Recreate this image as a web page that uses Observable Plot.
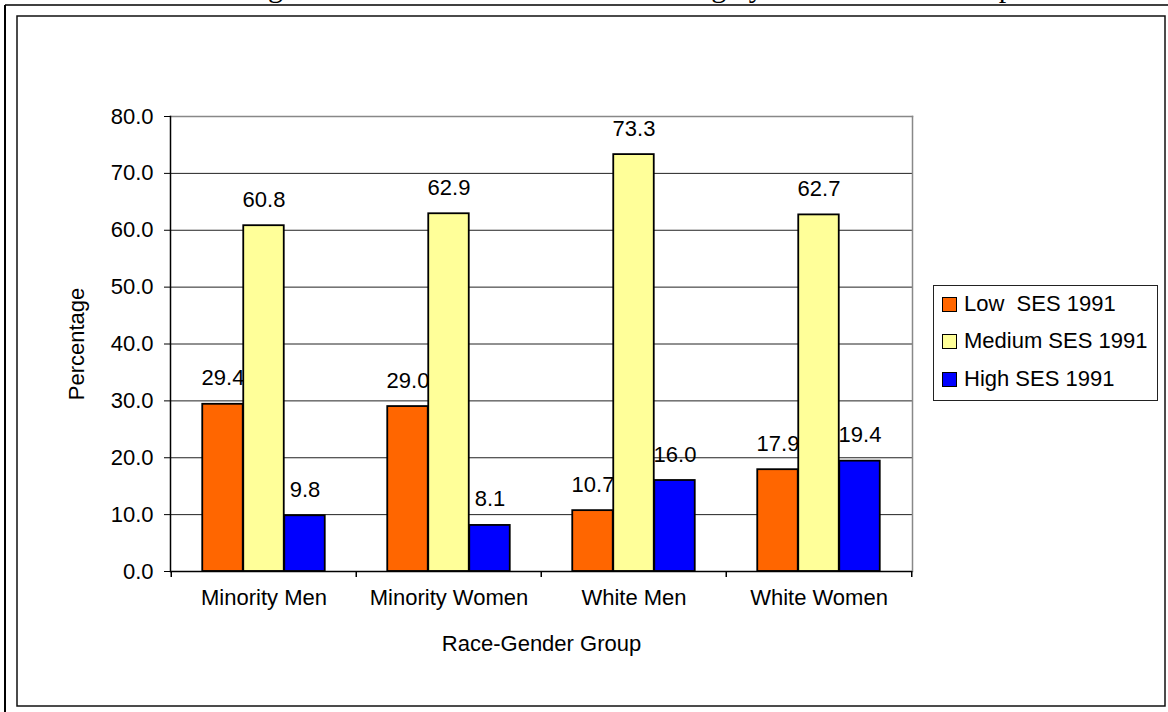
<!DOCTYPE html>
<html>
<head>
<meta charset="utf-8">
<script src="https://cdn.jsdelivr.net/npm/d3@7"></script>
<script src="https://cdn.jsdelivr.net/npm/@observablehq/plot@0.6"></script>
<style>
  html, body { margin: 0; padding: 0; background: #fff; }
  #page { position: relative; width: 1168px; height: 712px; overflow: hidden; font-family: "Liberation Sans", Arial, sans-serif; }
  #deco, #chart, #legend { position: absolute; }
  #deco { left: 0; top: 0; }
  #chart { left: 0; top: 0; }
  #legend { left: 933px; top: 285px; width: 223px; height: 114px; border: 1px solid #222; background: #fff; }
  .row { position: absolute; left: 8px; height: 24px; display: flex; align-items: center; font-size: 22px; color: #000; white-space: pre; }
  .sw { width: 13px; height: 13px; border: 1.5px solid #000; margin-right: 7px; }
</style>
</head>
<body>
<div id="page">
  <svg id="deco" width="1168" height="712">
    <text x="243" y="-3.5" font-family="Liberation Serif, Times New Roman, serif" font-size="30" fill="#000">Figure 3: 1991 Socioeconomic Standing by Race-Gender Group</text>
    <line x1="5" y1="5" x2="1168" y2="5" stroke="#000" stroke-width="1.5"/>
    <line x1="5" y1="5" x2="5" y2="712" stroke="#000" stroke-width="2"/>
    <rect x="17" y="16" width="1148" height="690" fill="#fff" stroke="#111" stroke-width="1.5"/>
  </svg>
  <div id="chart"></div>
  <div id="legend"></div>
</div>
<script>
// ---- data ----
const groups = ["Minority Men", "Minority Women", "White Men", "White Women"];
const seriesNames = ["Low  SES 1991", "Medium SES 1991", "High SES 1991"];
const lowSES = [29.4, 29.0, 10.7, 17.9];
const mediumSES = [60.8, 62.9, 73.3, 62.7];
const highSES = [9.8, 8.1, 16.0, 19.4];
const yTicks = [0, 10, 20, 30, 40, 50, 60, 70, 80];
const seriesColors = ["#FF6600", "#FFFF99", "#0000FF"];
const xTitle = "Race-Gender Group";
const yTitle = "Percentage";

// ---- layout ----
const W = 1168, H = 712;
const mL = 170, mR = 256, mT = 116, mB = 141;
const bw = (W - mL - mR) / groups.length;   // band width in px
const barW = 41;
const groupPad = (bw - 3 * barW) / 2;
const fmt = d3.format(".1f");
const FS = 22;

const allValues = [lowSES, mediumSES, highSES];
const seriesMarks = [];
allValues.forEach((vals, i) => {
  const rows = groups.map((g, j) => ({group: g, value: vals[j]}));
  const insetLeft = groupPad + i * barW;
  const insetRight = bw - insetLeft - barW;
  seriesMarks.push(
    Plot.barY(rows, {x: "group", y: "value", fill: seriesColors[i], stroke: "#000", strokeWidth: 1.8,
      insetLeft, insetRight}),
    Plot.text(rows, {x: "group", y: "value", text: d => fmt(d.value), dx: (i - 1) * barW, dy: -26,
      lineAnchor: "middle", fontSize: FS, fill: "#000"})
  );
});

const tickDepth = 6 / ((H - mT - mB) / 80);

const chart = Plot.plot({
  width: W, height: H,
  marginLeft: mL, marginRight: mR, marginTop: mT, marginBottom: mB,
  style: {fontFamily: "'Liberation Sans', Arial, sans-serif", fontSize: FS + "px", background: "transparent", color: "#000"},
  x: {domain: groups, padding: 0, axis: null},
  y: {domain: [0, 80], axis: null},
  marks: [
    Plot.ruleY(yTicks.filter(v => v > 0 && v < 80), {stroke: "#222", strokeWidth: 1}),
    Plot.frame({anchor: "top", stroke: "#888", strokeWidth: 1.5}),
    Plot.frame({anchor: "right", stroke: "#888", strokeWidth: 1.5}),
    ...seriesMarks,
    Plot.ruleY([0], {stroke: "#000", strokeWidth: 1.5}),
    Plot.frame({anchor: "left", stroke: "#000", strokeWidth: 1.5}),
    Plot.axisY({ticks: yTicks, tickFormat: fmt, tickSize: 6, tickPadding: 11, label: null, fontSize: FS}),
    Plot.axisX({tickSize: 0, tickPadding: 18, label: null, fontSize: FS}),
    Plot.ruleX(groups, {x: d => d, y1: 0, y2: -tickDepth, dx: -bw / 2, stroke: "#000", strokeWidth: 1.5}),
    Plot.ruleX([groups[groups.length - 1]], {x: d => d, y1: 0, y2: -tickDepth, dx: bw / 2, stroke: "#000", strokeWidth: 1.5}),
    Plot.text([xTitle], {frameAnchor: "bottom", text: d => d, dy: 72, textAnchor: "middle", lineAnchor: "middle", fontSize: FS}),
    Plot.text([yTitle], {frameAnchor: "left", text: d => d, dx: -94, rotate: -90, textAnchor: "middle", lineAnchor: "middle", fontSize: FS})
  ]
});
document.getElementById("chart").appendChild(chart);

// ---- legend ----
const legend = document.getElementById("legend");
const rowCenters = [18, 55, 93];
seriesNames.forEach((name, i) => {
  const row = document.createElement("div");
  row.className = "row";
  row.style.top = (rowCenters[i] - 12) + "px";
  const sw = document.createElement("div");
  sw.className = "sw";
  sw.style.background = seriesColors[i];
  const label = document.createElement("span");
  label.textContent = name;
  row.appendChild(sw);
  row.appendChild(label);
  legend.appendChild(row);
});
</script>
</body>
</html>
